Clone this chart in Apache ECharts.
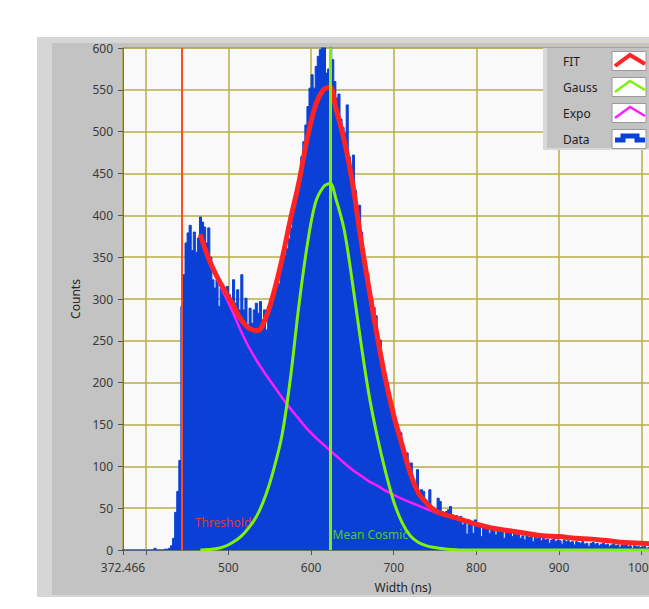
<!DOCTYPE html>
<html>
<head>
<meta charset="utf-8">
<script src="https://cdn.jsdelivr.net/npm/echarts@6/dist/echarts.min.js"></script>
<style>
  html, body { margin: 0; padding: 0; overflow: hidden; background: #ffffff; width: 649px; height: 609px; }
  #chart { width: 760px; height: 609px; }
</style>
</head>
<body>
<div id="chart"></div>
<script>
// Histogram of pulse widths: bins of 2.5 ns starting at 370 ns
const binStart = 370;
const binWidth = 2.5;
const counts = [
  // 370 - 440
  0,0,0,0,0,0,0,0,0,0,
  0,0,0,0,0,0,2,0,0,0,
  0,1,1,2,5,14,45,70,107,
  // 442.5 - 532.5
  291,329,367,379,388,358,380,356,373,398,
  392,386,367,385,350,323,313,323,291,313,
  307,311,315,305,299,323,295,311,287,329,
  287,301,269,289,271,287,295,
  // 535 - 552.5
  283,297,275,287,263,291,299,307,
  // 555 - 600
  315,322,318,335,345,352,360,372,385,400,
  412,430,445,470,488,508,530,552,568,
  // 602.5 - 700
  552,578,590,598,640,620,570,575,600,586,
  560,540,545,515,505,498,532,470,450,472,
  430,410,412,380,350,340,330,310,299,290,
  280,250,251,225,211,195,186,170,162,147,
  // 702.5 - 800
  143,143,140,116,111,116,100,104,80,72,
  96,68,72,70,60,58,72,48,50,46,
  62,58,46,44,46,48,52,42,40,41,
  38,40,30,36,19,36,34,20,36,32,
  // 802.5 - 900
  28,16,30,26,28,20,26,24,18,26,
  22,24,14,22,20,23,16,20,18,20,
  14,17,12,18,15,17,10,15,14,16,
  11,14,12,13,8,12,13,10,12,11,
  // 902.5 - 1000
  7,12,10,11,9,10,6,10,9,8,
  10,7,8,4,8,9,7,8,5,7,
  8,6,7,4,6,7,5,6,3,6,
  5,6,4,5,2,5,4,4,3,4,
  // 1002.5 - 1050
  4,2,3,4,3,2,3,3,2,3,
  1,3,2,3,2,2,1,2,2,1
];

// Fitted curves sampled along the width axis (ns)
const curveX = [
  466,475,485,495,505,515,525,535,545,555,
  565,575,585,595,605,615,623,630,640,650,
  660,670,680,690,700,710,720,730,740,750,
  760,770,780,800,820,840,860,880,900,920,
  940,960,980,1000,1020,1040,1060
];
const fitValues = [
  377,351,329,311,294,276,265,262,277,308,
  348,395,438,490,530,550,553,528,490,440,
  373,313,256,204,161,126,92,68,56,47,
  43,40,37,31,26,23,20,17,16,14,
  13,11,9,8,7,6,5
];
const gaussValues = [
  0,0.5,1.5,4,9,16,27,42,65,97,
  138,205,290,362,414,434,438,420,383,320,
  250,186,136,94,58,33,17,9,5,3,
  1.5,0.5,0,0,0,0,0,0,0,0,
  0,0,0,0,0,0,0
];
const expoValues = [
  377,350,327,306,285,262,242,225,210,196,
  182,169,157,145,135,126,119,113,104,96,
  89,82,77,71,66,61,57,53,49,45,
  42,40,37,31,26,23,20,17,16,14,
  13,11,9,8,7,6,5
];

// Markers (ns)
const thresholdNs = 443;
const meanCosmicNs = 623;

// Axes
const xMin = 372.466;
const xMax = 1050;
const xTickValues = [372.466, 400, 500, 600, 700, 800, 900, 1000];
const xLabelValues = [372.466, 500, 600, 700, 800, 900, 1000];
const yMin = 0;
const yMax = 600;
const yStep = 50;

const legendNames = ['FIT', 'Gauss', 'Expo', 'Data'];

const FONT = '"Noto Sans", "Open Sans", sans-serif';
const GRID = '#b9ae45';
const BLUE = '#0a40d6';
const RED = '#ff2323';
const GREEN = '#7ef20a';
const MAGENTA = '#ff1cff';

const dataPairs = counts.map((c, i) => [binStart + i * binWidth, c]);
dataPairs.push([binStart + counts.length * binWidth, 0]);
const curve = vals => curveX.map((x, i) => [x, vals[i]]);

const chart = echarts.init(document.getElementById('chart'), null, { renderer: 'svg' });

// Legend panel drawn as graphics in the top-right corner
const legendColors = [RED, GREEN, MAGENTA, BLUE];
const legendGraphics = [
  { type: 'rect', z: 100, shape: { x: 543, y: 48, width: 120, height: 102 }, style: { fill: '#d8d8d8' } },
  { type: 'rect', z: 101, shape: { x: 547, y: 48, width: 116, height: 100 }, style: { fill: '#c3c3c3' } }
];
legendNames.forEach((name, i) => {
  const cy = 61 + i * 26;
  legendGraphics.push({
    type: 'text', z: 102,
    style: { text: name, x: 563, y: cy, fill: '#1e1e1e', font: '12px ' + FONT, verticalAlign: 'middle' }
  });
  legendGraphics.push({
    type: 'rect', z: 102,
    shape: { x: 612, y: cy - 9.5, width: 34, height: 19 },
    style: { fill: '#fdfdfd', stroke: '#9a9a9a', lineWidth: 1 }
  });
  if (name === 'Data') {
    legendGraphics.push({
      type: 'polyline', z: 103,
      shape: { points: [[615, cy + 1], [623, cy + 1], [623, cy - 3], [637, cy - 3], [637, cy + 1], [645, cy + 1]] },
      style: { stroke: BLUE, lineWidth: 5, fill: null }
    });
  } else {
    legendGraphics.push({
      type: 'polyline', z: 103,
      shape: { points: [[615, cy + 5], [630, cy - 6], [645, cy + 3]] },
      style: { stroke: legendColors[i], lineWidth: name === 'FIT' ? 4 : 2.5, fill: null }
    });
  }
});

const option = {
  animation: false,
  graphic: [
    { type: 'rect', z: -20, shape: { x: 37, y: 37, width: 723, height: 560 }, style: { fill: '#d6d6d6' } },
    { type: 'rect', z: -19, shape: { x: 52, y: 43, width: 708, height: 552 }, style: { fill: '#c3c3c3' } },
    ...legendGraphics
  ],
  grid: {
    left: 123, top: 48, width: 560, height: 502,
    show: true, backgroundColor: '#f9f9f9', borderColor: '#7d7d7d', borderWidth: 1
  },
  xAxis: {
    type: 'value', min: xMin, max: xMax,
    name: 'Width (ns)', nameLocation: 'middle', nameGap: 31,
    nameTextStyle: { color: '#262626', fontSize: 12, fontFamily: FONT },
    axisLine: { show: true, onZero: false, lineStyle: { color: '#6e6e6e', width: 1 } },
    axisTick: { show: true, length: 5, lineStyle: { color: '#555555' }, customValues: xTickValues },
    axisLabel: {
      customValues: xLabelValues, margin: 11, lineHeight: 12, color: '#3a3a3a', fontSize: 12, fontFamily: FONT,
      formatter: v => (Math.abs(v - xMin) < 1e-6 ? String(xMin) : String(Math.round(v)))
    },
    splitLine: { show: true, lineStyle: { color: GRID, width: 1.5 } }
  },
  yAxis: {
    type: 'value', min: yMin, max: yMax, interval: yStep,
    name: 'Counts', nameLocation: 'middle', nameGap: 40, nameRotate: 90,
    nameTextStyle: { color: '#262626', fontSize: 12, fontFamily: FONT },
    axisLine: { show: true, lineStyle: { color: '#6e6e6e', width: 1 } },
    axisTick: { show: true, length: 5, lineStyle: { color: '#555555' } },
    axisLabel: { margin: 10, lineHeight: 12, color: '#3a3a3a', fontSize: 12, fontFamily: FONT },
    splitLine: { show: true, lineStyle: { color: GRID, width: 1.5 } }
  },
  series: [
    {
      name: 'Data', type: 'line', step: 'end', data: dataPairs, symbol: 'none', z: 1,
      lineStyle: { color: BLUE, width: 1 },
      areaStyle: { color: BLUE, opacity: 1 },
      markLine: {
        silent: true, symbol: 'none', z: 10, label: { show: false },
        data: [
          { xAxis: thresholdNs, lineStyle: { color: '#ff4a1c', width: 2, type: 'solid' } },
          { xAxis: meanCosmicNs, lineStyle: { color: '#84ee00', width: 3, type: 'solid' } }
        ]
      },
      markPoint: {
        silent: true, symbol: 'circle', symbolSize: 1, z: 2,
        itemStyle: { color: 'rgba(0,0,0,0)' },
        label: { show: true, position: 'right', fontSize: 12, fontFamily: FONT },
        data: [
          { coord: [thresholdNs, 33], label: { formatter: 'Threshold', color: '#dd3b3b', distance: 13 } },
          { coord: [meanCosmicNs, 19], label: { formatter: 'Mean Cosmic', color: '#4fcb2c', distance: 2 } }
        ]
      }
    },
    {
      name: 'Expo', type: 'line', data: curve(expoValues), smooth: 0.35, symbol: 'none', z: 3,
      lineStyle: { color: MAGENTA, width: 2.5 }
    },
    {
      name: 'Gauss', type: 'line', data: curve(gaussValues), smooth: 0.35, symbol: 'none', z: 4,
      lineStyle: { color: GREEN, width: 3 }
    },
    {
      name: 'FIT', type: 'line', data: curve(fitValues), smooth: 0.35, symbol: 'none', z: 5,
      lineStyle: { color: RED, width: 5 }
    }
  ]
};

chart.setOption(option);
</script>
</body>
</html>
